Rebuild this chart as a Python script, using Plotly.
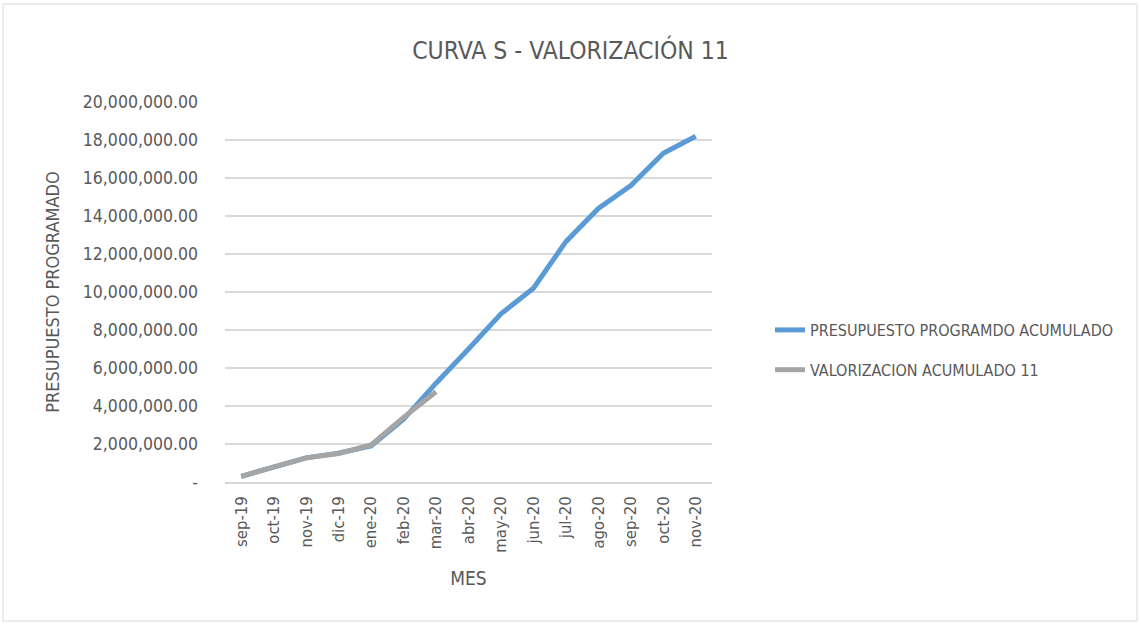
import plotly.graph_objects as go

meses = ["sep-19", "oct-19", "nov-19", "dic-19", "ene-20", "feb-20", "mar-20", "abr-20",
         "may-20", "jun-20", "jul-20", "ago-20", "sep-20", "oct-20", "nov-20"]
presupuesto = [300000, 780000, 1270000, 1520000, 1900000, 3300000, 5200000, 7000000,
               8850000, 10200000, 12650000, 14400000, 15600000, 17300000, 18200000]
valorizacion = [300000, 780000, 1270000, 1500000, 1950000, 3400000, 4750000]
y_ticks = [0, 2000000, 4000000, 6000000, 8000000, 10000000, 12000000, 14000000,
           16000000, 18000000, 20000000]

FONT = "DejaVu Sans Condensed, Liberation Sans Narrow, DejaVu Sans, sans-serif"
TXT = "#595959"

W, H = 1141, 625
L, R, T, B = 225, 429, 102, 143
pw, ph = W - L - R, H - T - B

ticktext = ["-" if v == 0 else f"{v:,.2f}" for v in y_ticks]

fig = go.Figure()
fig.add_trace(go.Scatter(x=meses, y=presupuesto, mode="lines",
                         name="PRESUPUESTO PROGRAMDO ACUMULADO", legendgroup="a",
                         line=dict(color="#5B9BD5", width=5)))
fig.add_trace(go.Scatter(x=meses[:len(valorizacion)], y=valorizacion, mode="lines",
                         name="VALORIZACION ACUMULADO 11", legendgroup="b",
                         line=dict(color="#A5A5A5", width=5)))

fig.update_layout(
    width=W, height=H,
    margin=dict(l=L, r=R, t=T, b=B, autoexpand=False),
    paper_bgcolor="white", plot_bgcolor="white",
    font=dict(family=FONT, color=TXT, size=17),
    title=dict(text="CURVA S - VALORIZACIÓN 11", x=0.5, xref="container", xanchor="center",
               y=1 - 50 / H, yref="container", yanchor="middle",
               font=dict(size=24.5, color=TXT)),
    showlegend=True,
    legend=dict(x=(770 - L) / pw, y=1 - (350 - T) / ph, xanchor="left", yanchor="middle",
                font=dict(size=16, color=TXT), tracegroupgap=16,
                bgcolor="rgba(0,0,0,0)"),
    xaxis=dict(title=dict(text="MES", font=dict(size=19, color=TXT), standoff=20),
               tickangle=-90, showgrid=False, showline=True, linecolor="#D9D9D9",
               linewidth=1.5, ticks="", tickfont=dict(size=16.5, color=TXT),
               ticklabelstandoff=6,
               range=[-0.5, len(meses) - 0.5]),
    yaxis=dict(title=dict(text="PRESUPUESTO PROGRAMADO", font=dict(size=18, color=TXT), standoff=18),
               range=[0, 20000000], tickvals=y_ticks, ticktext=ticktext,
               showgrid=True, gridcolor="#D9D9D9", gridwidth=1.5, zeroline=False,
               ticks="", tickfont=dict(size=17.5, color=TXT), ticklabelstandoff=26),
)

# outer chart border
fig.add_shape(type="rect", xref="paper", yref="paper",
              x0=(3 - L) / pw, x1=(1137 - L) / pw,
              y0=1 - (621 - T) / ph, y1=1 - (4 - T) / ph,
              line=dict(color="#D9D9D9", width=1), fillcolor="rgba(0,0,0,0)", layer="below")

fig.write_html("out.html", config={"displayModeBar": False},
               post_script="document.body.style.margin='0';document.body.style.overflow='hidden';")
